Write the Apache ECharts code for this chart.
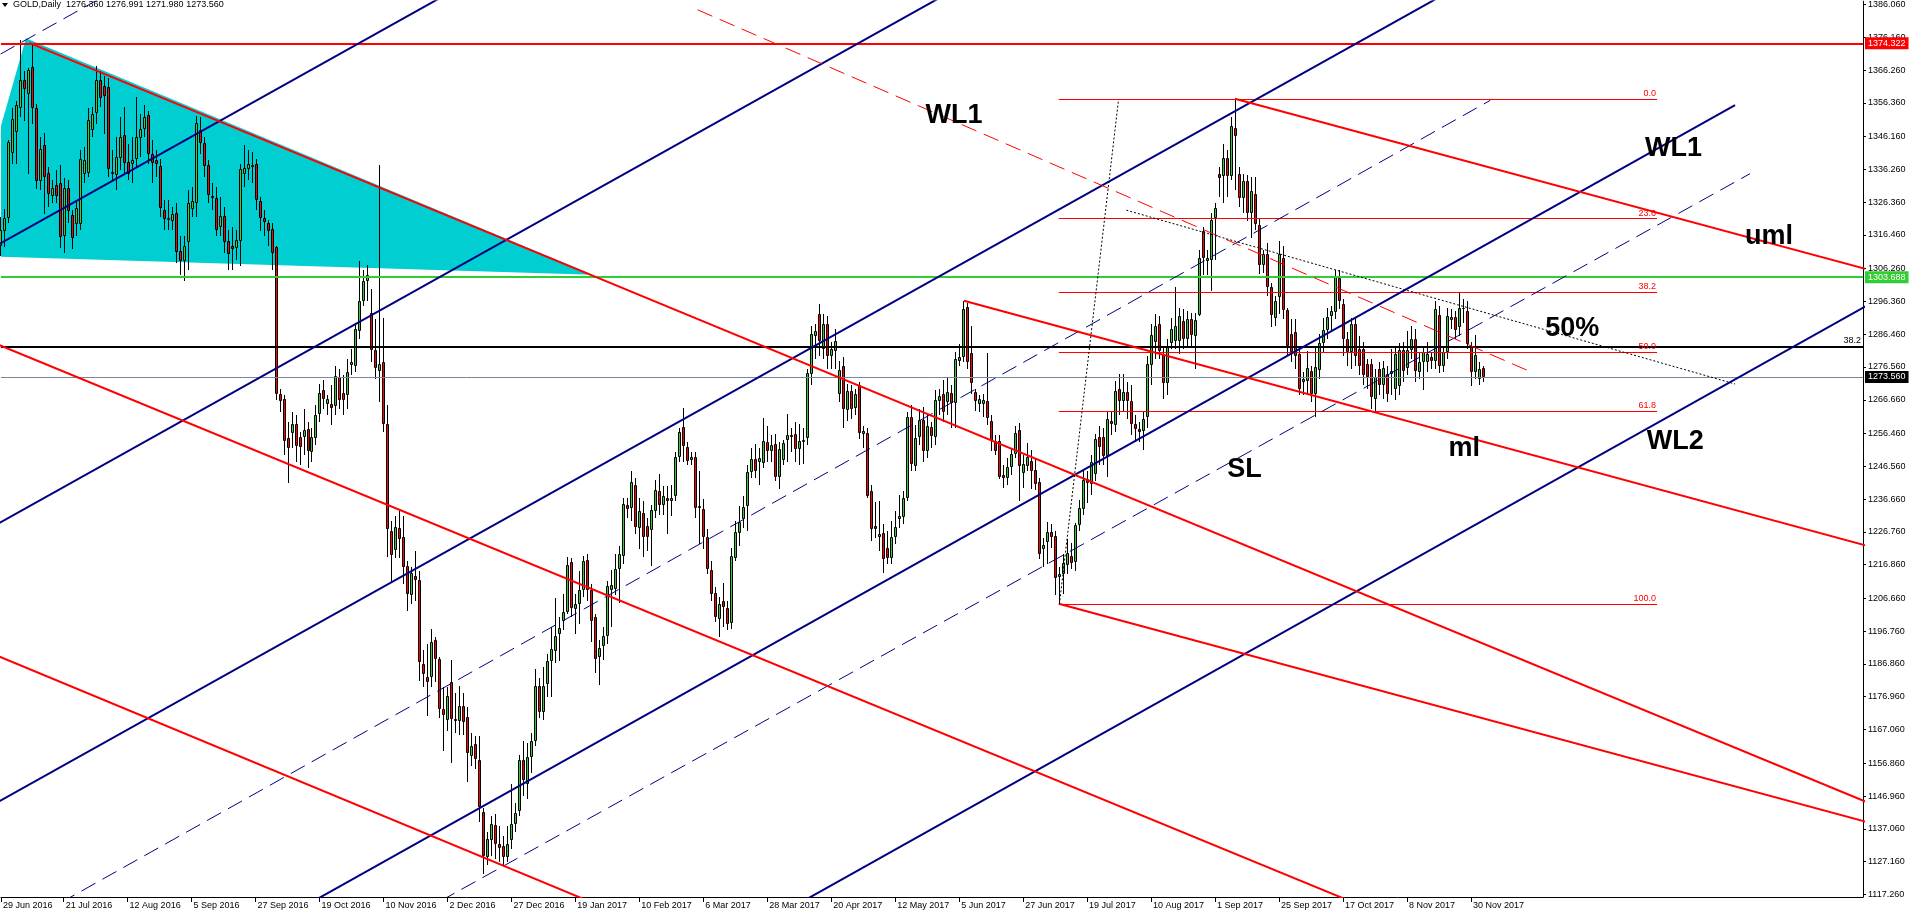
<!DOCTYPE html>
<html><head><meta charset="utf-8">
<script src="https://cdn.jsdelivr.net/npm/echarts@6/dist/echarts.min.js"></script>
<style>html,body{margin:0;padding:0;background:#fff}#c{width:1913px;height:917px}</style>
</head><body><div id="c"></div><script>
// ---- candle data (GOLD, Daily) bar index 0 = 29 Jun 2016 ----
const opens = [
1313,1317.5,1321.5,1341.3,1347.6,1354.9,1363.2,1358.9,1367.2,1354.9,
1332.8,1343.5,1335.3,1328.2,1331.6,1332,1316.2,1330.6,1322.5,1319.9,
1319.7,1335,1335.1,1348.3,1353.4,1363.2,1361.4,1361.1,1335.6,1334.6,
1339.8,1346.5,1338.5,1338,1339.3,1345.8,1348.6,1352.6,1340.8,1339,
1337.3,1323.9,1321.5,1320.7,1323,1311.6,1308.6,1314.2,1324.2,1326.2,
1348.3,1344.3,1337.5,1328.2,1327.5,1318.9,1322.2,1314.5,1313,1312.6,
1314.7,1334.8,1336.5,1337.6,1337.8,1326.7,1321.5,1320.2,1318.2,1312.7,
1268.4,1266.9,1255,1256.5,1259.3,1255.3,1255.3,1257.8,1250.8,1255.1,
1262.4,1269.7,1265.4,1265.4,1264.9,1273.4,1268.6,1268.1,1277.2,1277,
1287.5,1296.6,1302.4,1292.8,1281.8,1275.4,1278,1259.2,1227.1,1221.3,
1227.8,1225.1,1216.3,1207.7,1213.5,1212.3,1186.7,1183,1182.8,1194.1,
1188.4,1173.3,1169.8,1181.3,1170.3,1169.6,1174.3,1170.8,1159.2,1162.7,
1157.7,1142.1,1128.5,1133.8,1138.1,1132.4,1131.8,1128.5,1133.8,1138.6,
1142.4,1157.7,1150.7,1158.7,1163.5,1180.3,1172.3,1180.8,1187.9,1190.7,
1195.9,1199.7,1202.7,1217.8,1203.4,1205,1209.2,1218.2,1209.2,1200.9,
1188.9,1192.4,1195.4,1209.2,1209.5,1215.5,1219.5,1234.9,1233.9,1241,
1228,1232.6,1228.6,1227.3,1233.1,1239.1,1234.9,1237.1,1236.1,1237.6,
1249.3,1258.3,1252.3,1248.5,1249.5,1234.6,1233.6,1225.1,1215.3,1208.2,
1200.4,1206,1203.9,1199.2,1219,1226.3,1230.6,1234.6,1244.7,1248.7,
1248,1247.7,1253.8,1251.3,1253.3,1243.2,1248.4,1254.5,1256.1,1256.3,
1251.8,1253.8,1255.1,1274.4,1286,1292.5,1282,1289.5,1280,1281.5,
1268.4,1277,1263.6,1269.2,1264.2,1271.2,1256.4,1256.6,1239.1,1228.6,
1225.1,1226.3,1222,1219,1225.1,1230.6,1231.1,1237.1,1261.4,1246.7,
1255.4,1260.6,1251.3,1258.3,1255.3,1266.4,1268.4,1266,1268.6,1265.6,
1278.5,1279.7,1294.8,1280.7,1268.9,1265.4,1265.4,1266.4,1260.4,1254.3,
1254.3,1243.8,1243.1,1246.3,1250.3,1257.5,1244.5,1246.8,1248.3,1245.3,
1241.7,1221.6,1223.7,1226.7,1225.4,1213.1,1214.1,1216.9,1219.6,1217.6,
1228.7,1233.7,1242.8,1241.2,1244.3,1255.3,1255.3,1249.8,1260.4,1259,
1269.9,1266.4,1268.9,1266.4,1259.3,1257.8,1257.3,1261.4,1277.3,1284,
1289.5,1280.5,1271.6,1283.7,1284.5,1284.5,1290.5,1285,1291,1286,
1292.3,1317.5,1308.6,1308.8,1321.5,1335,1334.3,1339.6,1334.3,1348.9,
1334.8,1327.7,1332.8,1323.2,1328.9,1319.5,1307.4,1310.8,1300.8,1291.5,
1297.8,1309.6,1293.7,1286.5,1287,1280.5,1271.9,1272.4,1275.4,1268.4,
1275.6,1283.7,1287.7,1292,1293.3,1303.4,1295.6,1285,1281,1289.5,
1282,1282,1277.5,1277.5,1266.9,1276,1271,1274.4,1274.4,1270,
1270.9,1281.7,1276.2,1281.7,1285,1274.9,1278,1278,1279.5,1278.5,
1292.3,1276.9,1281,1290.7,1291.7,1288.5,1294.5,1293.5,1282.7,1275,1272.9,1276.36];
const highs = [
1322,1324.2,1345,1354.9,1357,1375.2,1366,1367,1374,1356,
1346,1347.1,1337,1333,1336,1337.5,1333.8,1333,1324,1327,
1342,1343,1354.9,1355,1367.5,1365.9,1364.5,1364,1342,1346,
1352,1355,1344,1346,1358,1353,1355.6,1354,1345,1342,
1339.5,1327,1327,1325,1326,1316,1316,1330,1331,1352.5,
1352,1346,1339,1332,1331,1328,1325,1318,1319,1318,
1338,1343.5,1342,1341.6,1339.5,1328,1324,1321,1320,1313,
1270,1268,1260,1263,1262,1257,1264,1260,1258,1265,
1271.5,1272.6,1268,1271,1277,1276,1274,1279,1282,1290,
1308.7,1306,1307.5,1300,1291,1337.5,1291.5,1265,1230,1231.6,
1233,1231.6,1218,1216,1221,1215,1191,1193,1197.5,1195,
1189,1180,1180,1188.2,1178,1180.3,1178,1174,1166,1165,
1165,1143.5,1136,1141,1141.5,1138,1135,1137.8,1150.5,1145,
1159.5,1163.5,1163,1166,1185.3,1182.6,1186,1190,1198,1206.9,
1201,1208,1219.1,1219,1208,1214.8,1219.6,1220.1,1211,1202,
1194,1198,1212,1215.2,1220,1222.5,1237,1237,1245,1243,
1237,1236,1231,1235,1242.4,1244.3,1240.6,1240.6,1241,1251,
1258,1264.2,1254,1251,1251,1245,1236.6,1227.5,1218,1210,
1207,1211.4,1206,1222,1230,1234.6,1237.5,1247,1252,1253.2,
1252,1261.2,1258.6,1256,1256.3,1254,1254.5,1262.5,1258,1260,
1259.3,1258,1276,1289,1289.5,1295.6,1292.5,1292,1284,1288,
1278.5,1279.5,1271.5,1271,1270,1272,1258.6,1258,1241,1235.8,
1236,1229,1227,1230,1233,1237.9,1239,1263,1265.2,1259,
1264,1264.5,1262,1260,1269.5,1270,1272.5,1273.5,1271,1281,
1283.6,1296.4,1296,1289,1270,1268,1268.4,1280.7,1262,1256,
1256,1247,1249,1252,1258.6,1259.5,1250,1253.7,1251.5,1249,
1243,1225,1229.6,1229,1227,1216,1220,1224.6,1223.3,1229.5,
1236.5,1245,1245,1250,1256.4,1258.8,1258,1263,1263,1272.3,
1274.5,1274.5,1272,1271,1262,1260,1263,1280,1289.5,1292.5,
1292,1283,1285,1291.5,1300.6,1294.5,1294,1293.5,1293,1293,
1312,1319,1312,1323,1326,1337,1344,1342,1352,1357.4,
1337,1335,1334.5,1334,1334,1321.5,1312,1314,1302,1298,
1314.6,1313,1294.5,1291,1291,1283,1275,1281.5,1277,1283,
1286.5,1291.5,1294.5,1295,1306,1305.8,1297,1287,1291.5,1291.5,
1286,1284,1279,1279,1276,1278,1278.5,1277,1282,1282.5,
1283.8,1284,1287.3,1289,1288,1281,1282.5,1284,1281,1296.5,
1295,1283,1294.5,1294,1293.5,1299,1297,1296.5,1284,1286.2,1278,1276.991];
const lows = [
1310,1312.8,1320,1337.8,1338,1352,1351,1334.8,1350,1330.2,
1330,1322.7,1325,1326,1326,1312.6,1311.1,1320,1312.1,1316,
1318,1332,1334,1346,1350,1355,1347,1334,1333,1330,
1336,1335,1333,1332,1337,1340,1346,1338,1332,1334,
1322,1318,1318,1318,1308,1304.5,1302.4,1306,1322,1322,
1341,1334,1326,1324,1316,1316,1311,1306,1306,1309,
1307,1331,1333,1332,1324,1317.5,1316,1313,1306,1266.5,
1262.9,1250,1241.5,1252,1248,1247,1250,1246.2,1248,1253,
1260,1264,1262,1259,1262,1264,1262,1264,1274,1275,
1285,1295,1296.5,1278,1273,1266,1257,1219.3,1211.6,1219,
1219,1211,1202.8,1205,1206,1181.7,1180,1171,1180,1181.5,
1170.5,1160.6,1166.7,1157,1166,1165.5,1165.5,1151.3,1156,1155,
1139,1123.3,1126,1129,1128,1127,1126,1127,1131,1136,
1141,1147,1146,1154,1162,1170.5,1170,1177,1177,1187,
1187.8,1197,1202,1201,1196,1199,1207,1206,1193.6,1184,
1180.6,1188.1,1193,1197.9,1207.6,1205.4,1217,1231,1230,1226,
1221.6,1219.1,1221,1216.5,1231,1232,1232,1226.1,1231.6,1236,
1248,1248,1247,1247,1231,1223,1221.7,1214,1206,1199.5,
1195,1198,1197.2,1197.5,1218,1222.5,1228,1227,1243,1243,
1241,1246,1248,1248,1242,1239.6,1247,1248,1251,1248,
1247,1247.2,1253,1271,1279,1280,1279,1275.9,1276,1276,
1266,1258,1260.2,1261,1262,1254.8,1252,1237,1224,1225,
1221,1214.3,1217,1217,1223,1228,1229,1236,1245,1245,
1253,1248,1249,1252,1253,1262,1260,1262,1258,1258,
1277,1278,1276,1268.4,1263.4,1263,1261.4,1258.9,1251.3,1250,
1242.8,1240,1241,1244,1249,1236.2,1240,1245,1239.6,1239.5,
1218.6,1216,1217,1222,1207.6,1204.9,1208,1214,1215.5,1215,
1227,1232,1235.5,1238,1242,1247,1247,1243.4,1256,1257,
1262,1263,1261,1256,1254,1254,1251.4,1258,1271,1279,
1279,1267,1268,1282,1282,1280.5,1282,1283,1283,1276,
1292,1304.5,1304.5,1299.4,1309,1328,1326,1328,1333,1330,
1325,1323,1320.6,1315.4,1318,1304.6,1305,1298,1288.6,1289,
1292.5,1291,1280,1278,1276,1268,1268,1268,1266,1261.5,
1273,1281,1285,1287,1291,1294,1280,1277,1276,1277,
1274,1271,1270,1264,1263,1268,1267,1266,1268,1266.6,
1268,1272,1274,1279,1272,1273,1269.6,1275,1276,1276,
1274.6,1275,1279,1288,1285,1286,1290,1282,1270.8,1273,1271,1271.98];
const closes = [
1318,1321.5,1344.5,1351.4,1355.7,1363.2,1360.4,1366.4,1354.9,1332.8,
1342.3,1334.1,1328.7,1330.7,1328.2,1315.7,1330.6,1323.7,1315.5,1324.5,
1339.3,1339,1351.1,1352.9,1363.2,1357.9,1358.4,1336.5,1334.8,1340,
1346,1338.3,1334.8,1339,1346,1348.6,1352.2,1340.8,1338.3,1337.8,
1324.5,1321.2,1320.9,1322.7,1311.4,1308.6,1313,1326,1326.7,1350.2,
1344.3,1337.3,1328.4,1327.7,1317.9,1322.2,1314.2,1310.8,1312.2,1315,
1336.3,1336.6,1337.8,1337,1326.9,1321.7,1320.5,1317.5,1311.1,1268.4,
1266.4,1254.3,1252,1259.3,1252.8,1252.5,1257.6,1251.3,1255.5,1262.1,
1268.6,1266.9,1266.9,1264.2,1273.9,1266.6,1266.6,1275.1,1278,1288,
1296.6,1302.6,1304.4,1281.8,1276.4,1277.4,1259.2,1227.6,1219.8,1228.3,
1224.6,1216.2,1208,1214.2,1212.3,1187.4,1183.8,1181.3,1193.4,1188.4,
1173.3,1171.5,1177.3,1170.3,1169.6,1174.3,1169.3,1159.9,1162.2,1158.2,
1143.6,1129,1134.1,1138.6,1132.4,1131.4,1128.5,1132.4,1138.6,1141.8,
1157.9,1151.9,1158.9,1163.5,1180.3,1172.3,1180.3,1187.7,1191.4,1195.4,
1197.7,1202.7,1216.8,1203.7,1205,1209.2,1218,1209.2,1199.9,1188.4,
1191.7,1195.4,1210.5,1210.8,1215.5,1220,1235.1,1233.6,1241.7,1228.1,
1233.1,1225.1,1225.1,1233.3,1239.4,1234.9,1237.6,1236.1,1237.1,1249.5,
1256.8,1252.8,1248.1,1249.5,1234.1,1234.1,1225.1,1215.5,1208,1200.9,
1205,1204,1198.9,1219.5,1226.6,1229.6,1234.3,1244.7,1248.7,1245.2,
1249,1254.3,1251.3,1253.1,1243.2,1251.8,1253.5,1256.1,1255.4,1251.8,
1254.3,1254.5,1274.6,1286.5,1287.5,1284.5,1289.5,1280,1282,1284.5,
1275.6,1263.9,1269.2,1263.9,1268.4,1256.6,1257.2,1237.6,1227.6,1227.6,
1226.1,1218.5,1219,1225.1,1228.3,1231.6,1237.1,1261.4,1247.2,1255.1,
1260.6,1251.3,1258.8,1255.8,1266.6,1267.9,1262.9,1268.9,1265.6,1279,
1279.7,1294.05,1277.96,1271.6,1266.4,1266.9,1266.6,1261.2,1254.3,1251.3,
1243.3,1243.1,1246.5,1250.3,1256.5,1246.8,1247.3,1249.3,1245.1,1241.2,
1220.1,1222.9,1226.7,1225.2,1212.9,1214.1,1217.3,1220.3,1217.3,1228.7,
1234,1242.5,1241.5,1247.8,1254.8,1252.3,1249.8,1260.9,1259.2,1269.4,
1266.4,1268.9,1266.4,1259.3,1257.8,1256.9,1260.9,1277.5,1286.3,1289,
1281.5,1271.6,1283,1288,1289,1292,1285,1291,1286.3,1290.7,
1309.4,1309.4,1309.4,1320.9,1324.7,1333.8,1339.6,1334.3,1349.4,1346.3,
1327.7,1332.8,1323.2,1329.7,1319.7,1307.4,1310.8,1300.8,1292.3,1296.4,
1310.8,1293.7,1283,1281,1280,1269.9,1272.9,1276.4,1268.4,1276.7,
1283.7,1287.7,1291.7,1293.5,1303.6,1296.6,1285,1281,1289.5,1280,
1277,1274,1273.4,1267.4,1273.4,1271,1276.4,1268.4,1275.4,1280.5,
1281.7,1275.4,1281.7,1285,1275.4,1278,1281,1280.5,1278.5,1294,
1276.9,1281,1292,1291.7,1287.7,1294.5,1294,1283.5,1275,1280.3,1275.9,1273.56];

// ---- axis tick labels ----
const dateLabels = ["29 Jun 2016","21 Jul 2016","12 Aug 2016","5 Sep 2016","27 Sep 2016","19 Oct 2016",
"10 Nov 2016","2 Dec 2016","27 Dec 2016","19 Jan 2017","10 Feb 2017","6 Mar 2017","28 Mar 2017",
"20 Apr 2017","12 May 2017","5 Jun 2017","27 Jun 2017","19 Jul 2017","10 Aug 2017","1 Sep 2017",
"25 Sep 2017","17 Oct 2017","8 Nov 2017","30 Nov 2017"];
const dateLabelEvery = 16;
const priceTicks = [1386.060,1376.160,1366.260,1356.360,1346.160,1336.260,1326.360,1316.460,1306.260,
1296.360,1286.460,1276.560,1266.660,1256.460,1246.560,1236.660,1226.760,1216.860,1206.660,1196.760,
1186.860,1176.960,1167.060,1156.860,1146.960,1137.060,1127.160,1117.260];

// ---- drawn objects (bar index, price) ----
const blueLines = [[-5,1310.37,120,1394.68],[-5,1226.12,240,1391.37],[-5,1142.04,370,1394.98],
[70,1109.48,434.075,1355.68],[195,1111.18,470,1297.09]];
const blueDashed = [[-5,1367.57,30,1391.18],[10,1111.17,372.825,1357.1],[105,1111.73,437.825,1334.96]];
const redLines = [[7.4,1374.47,470,1143.63],[-5,1285.63,345,1111.63],[-5,1191.53,155,1111.39],
[241.2,1296.55,470,1221.6],[308.975,1357.58,470,1305.12],[264.925,1205.06,470,1138.18]];
const redDashed = [[174.575,1384.46,382.325,1275.44]];
const blackDotted = [[265.075,1204.9,279.875,1357.4],[281.825,1323.92,434.075,1271.43]];
const triangleBars = [0.325,6.575,148.325,0.325];
const trianglePrices = [1349.35,1375.89,1304.46,1309.83];
const fibHigh = 1357.4, fibLow = 1204.9, fibFrom = 264.925, fibTo = 414.575;
const fibLevels = [0,23.6,38.2,50,61.8,100];
const resistance = 1374.322, support = 1303.688, blackLevel = 1282.7, lastPrice = 1273.56;
const textLabels = ['WL1','WL1','uml','50%','WL2','ml','SL'];
const textBars = [231.575,411.575,436.575,386.575,412.0,362.425,307.075];
const textPrices = [1352.57,1342.5,1315.86,1288.2,1254.02,1251.82,1245.48];

const X_MIN = 0.325, X_MAX = 466.075;
const chart = echarts.init(document.getElementById('c'), null, {renderer:'canvas'});
const FONT = '"Liberation Sans", Arial, sans-serif';

function seg(arr, color, width, type, z){
  return arr.map(a => ({type:'line', data:[[a[0],a[1]],[a[2],a[3]]], showSymbol:false, symbol:'none',
    silent:true, animation:false, clip:true, z:z,
    lineStyle:{color:color, width:width, type:type}}));
}

const fibMarks = fibLevels.map(l => {
  const p = fibHigh - (fibHigh - fibLow) * l / 100;
  return [{coord:[fibFrom,p], label:{formatter:l.toFixed(1)}}, {coord:[fibTo,p]}];
});

const hLines = [
  {yAxis:resistance, lineStyle:{color:'#ff0000',width:2,type:'solid'},
   label:{show:true,position:'end',formatter:resistance.toFixed(3),backgroundColor:'#ff0000',color:'#fff',padding:[2,3,1,3],distance:2,fontSize:9,fontFamily:FONT}},
  {yAxis:support, lineStyle:{color:'#32cd32',width:2,type:'solid'},
   label:{show:true,position:'end',formatter:support.toFixed(3),backgroundColor:'#32cd32',color:'#fff',padding:[2,3,1,3],distance:2,fontSize:9,fontFamily:FONT}},
  {yAxis:blackLevel, lineStyle:{color:'#000',width:2,type:'solid'},
   label:{show:true,position:'insideEndTop',formatter:'38.2',color:'#000',fontSize:9,fontFamily:FONT,distance:2}},
  {yAxis:lastPrice, lineStyle:{color:'#778899',width:1,type:'solid'},
   label:{show:true,position:'end',formatter:lastPrice.toFixed(3),backgroundColor:'#000',color:'#fff',padding:[2,3,1,3],distance:2,fontSize:9,fontFamily:FONT}}
];

const candleData = opens.map((o,i)=>[i,o,closes[i],lows[i],highs[i]]);
const dateTickValues = dateLabels.map((d,k)=>Math.max(k*dateLabelEvery, X_MIN + 0.01));

const series = [
  {type:'custom', name:'triangle', silent:true, animation:false, z:1, clip:true,
   data:[[triangleBars[0],trianglePrices[0]]],
   renderItem:(params, api)=>({type:'polygon',
     shape:{points: triangleBars.map((b,k)=>api.coord([b,trianglePrices[k]]))},
     style:{fill:'#00ced1'}})},
  {type:'custom', name:'GOLD', silent:true, animation:false, z:3, clip:true,
   encode:{x:0, y:[1,2,3,4]}, data:candleData,
   renderItem:(params, api)=>{
     const i=api.value(0), o=api.value(1), c=api.value(2), l=api.value(3), h=api.value(4);
     const pO=api.coord([i,o]), pC=api.coord([i,c]), pL=api.coord([i,l]), pH=api.coord([i,h]);
     const x=Math.round(pO[0]);
     const top=Math.round(Math.min(pO[1],pC[1])), bot=Math.round(Math.max(pO[1],pC[1]));
     const up=c>=o;
     return {type:'group', children:[
       {type:'line', shape:{x1:x+0.5,y1:Math.round(pH[1]),x2:x+0.5,y2:Math.round(pL[1])}, style:{stroke:'#000',lineWidth:1}},
       {type:'rect', shape:{x:x-0.5,y:top+0.5,width:2,height:Math.max(bot-top-1,0)},
        style:{fill:up?'#32cd32':'#ff0000', stroke:'#000', lineWidth:1}}
     ]};
   },
   markLine:{silent:true, symbol:['none','none'], animation:false, z:4,
     data: hLines.concat(fibMarks.map(m=>[
       Object.assign({}, m[0], {lineStyle:{color:'#ff0000',width:1,type:'solid'},
         label:{show:true,position:'insideEndTop',formatter:m[0].label.formatter,color:'#ff0000',fontSize:9,fontFamily:FONT,distance:1}}),
       m[1]]))}
  }
].concat(
  seg(blueLines,'#000080',2,'solid',5),
  seg(blueDashed,'#000080',1,[16,8],5),
  seg(redLines,'#ff0000',2,'solid',5),
  seg(redDashed,'#ff0000',1,[16,8],5),
  seg(blackDotted,'#000',1,[2,2],5),
  [{type:'custom', name:'labels', silent:true, animation:false, z:10, clip:false,
    data:textBars.map((b,k)=>[b,textPrices[k],k]),
    renderItem:(params, api)=>{
      const p=api.coord([api.value(0),api.value(1)]);
      return {type:'text', x:p[0], y:p[1], style:{text:textLabels[api.value(2)], fill:'#000',
        font:'bold 27px '+FONT, align:'left', verticalAlign:'middle', textAlign:'left', textVerticalAlign:'middle'}};
    }}]
);

const last = opens.length-1;
chart.setOption({
  backgroundColor:'#fff',
  animation:false,
  grid:{left:0,right:50,top:0,bottom:20,containLabel:false},
  xAxis:{type:'value', min:X_MIN, max:X_MAX, position:'bottom',
    axisLine:{show:true,onZero:false,lineStyle:{color:'#000',width:1}},
    splitLine:{show:false},
    axisTick:{show:true,length:5,lineStyle:{color:'#000'},customValues:dateTickValues},
    axisLabel:{show:true,customValues:dateTickValues,
      formatter:v=>dateLabels[Math.round(v/dateLabelEvery)]||'', align:'left', margin:4,
      color:'#000', fontSize:9, fontFamily:FONT, padding:[0,0,0,2], hideOverlap:false}},
  yAxis:{type:'value', min:1116.465, max:1387.055, position:'right',
    axisLine:{show:true,onZero:false,lineStyle:{color:'#000',width:1}},
    splitLine:{show:false},
    axisTick:{show:true,length:3,lineStyle:{color:'#000'},customValues:priceTicks},
    axisLabel:{show:true,customValues:priceTicks,formatter:v=>v.toFixed(3),margin:5,
      color:'#000',fontSize:9,fontFamily:FONT,hideOverlap:false}},
  graphic:[
    {type:'polygon', shape:{points:[[2,3],[8,3],[5,7]]}, style:{fill:'#000'}, z:20},
    {type:'text', left:13, top:0, z:20, style:{text:'GOLD,Daily  '+[opens[last],highs[last],lows[last],closes[last]].map(v=>v.toFixed(3)).join(' '),
      fill:'#000', font:'9px '+FONT}}
  ],
  series:series
});
</script></body></html>
